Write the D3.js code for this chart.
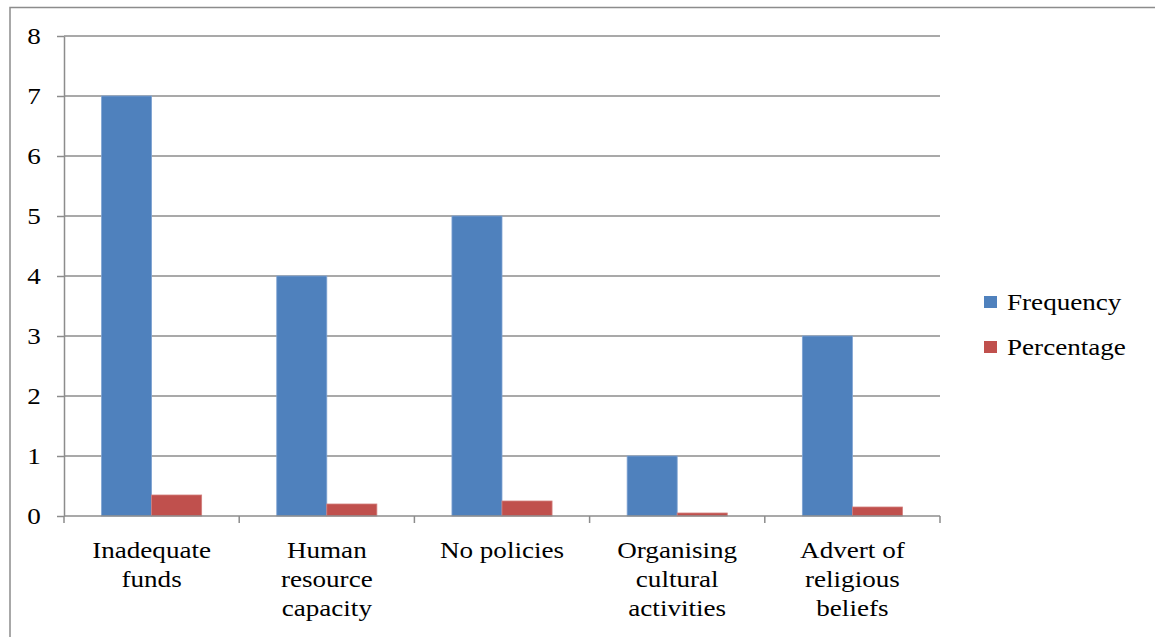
<!DOCTYPE html>
<html>
<head>
<meta charset="utf-8">
<script src="https://cdn.jsdelivr.net/npm/d3@7"></script>
<style>
  html, body { margin: 0; padding: 0; background: #fff; }
  svg { display: block; }
</style>
</head>
<body>
<script>
// Barriers to promoting cultural heritage: frequency and share of responses
const categories = [
  ["Inadequate", "funds"],
  ["Human", "resource", "capacity"],
  ["No policies"],
  ["Organising", "cultural", "activities"],
  ["Advert of", "religious", "beliefs"]
];
const seriesNames = ["Frequency", "Percentage"];
const frequency = [7, 4, 5, 1, 3];
const percentage = [0.35, 0.2, 0.25, 0.05, 0.15];
const yTicks = [0, 1, 2, 3, 4, 5, 6, 7, 8];
const colors = ["#4F81BD", "#C0504D"];

const W = 1155, H = 637;
const plot = { left: 64, right: 940, top: 36, bottom: 516 };
const fontSize = 24, stretch = 1.13;
const FONT = '"Liberation Serif", "Times New Roman", Times, serif';

const svg = d3.select("body").append("svg").attr("width", W).attr("height", H);

// chart frame
svg.append("path")
  .attr("d", `M10,${H + 2} V7.5 H${W + 2}`)
  .attr("fill", "none").attr("stroke", "#8c8c8c").attr("stroke-width", 1.5);

const idx = d3.range(categories.length);
const x0 = d3.scaleBand().domain(idx).range([plot.left, plot.right])
  .paddingInner(0.4286).paddingOuter(0.2143);
const x1 = d3.scaleBand().domain([0, 1]).range([0, x0.bandwidth()]).padding(0);
const y = d3.scaleLinear().domain([0, 8]).range([plot.bottom, plot.top]);

// horizontal gridlines
svg.append("g").selectAll("line").data(yTicks.slice(1)).join("line")
  .attr("x1", plot.left).attr("x2", plot.right)
  .attr("y1", d => y(d)).attr("y2", d => y(d))
  .attr("stroke", "#8c8c8c").attr("stroke-width", 1.5);

// y axis
const yAxis = svg.append("g").attr("transform", `translate(${plot.left},0)`)
  .call(d3.axisLeft(y).tickValues(yTicks).tickSize(7).tickSizeOuter(0).tickPadding(0).tickFormat(d3.format("d")));
yAxis.select(".domain").attr("stroke", "#8c8c8c").attr("stroke-width", 1.5);
yAxis.selectAll(".tick line").attr("stroke", "#8c8c8c").attr("stroke-width", 1.5);
yAxis.selectAll(".tick text")
  .style("font-family", FONT).style("font-size", fontSize + "px")
  .attr("fill", "#000")
  .attr("x", null).attr("dy", null)
  .attr("text-anchor", "middle").attr("dominant-baseline", "central")
  .attr("transform", `translate(-30,0) scale(${stretch},1)`);

// bars
const groups = svg.append("g").selectAll("g").data(idx).join("g")
  .attr("transform", i => `translate(${x0(i)},0)`);
groups.selectAll("rect")
  .data(i => [frequency[i], percentage[i]].map((v, s) => ({ v, s })))
  .join("rect")
  .attr("x", d => x1(d.s))
  .attr("width", x1.bandwidth())
  .attr("y", d => y(d.v))
  .attr("height", d => y(0) - y(d.v))
  .attr("fill", d => colors[d.s])
  .attr("stroke", d => d.s === 0 ? "#7fa3d3" : "#d27e7c")
  .attr("stroke-width", 0.8);

// x axis with ticks at category boundaries
const bounds = d3.range(categories.length + 1).map(i => plot.left + i * x0.step());
const xAxisG = svg.append("g");
xAxisG.append("line")
  .attr("x1", plot.left).attr("x2", plot.right)
  .attr("y1", plot.bottom).attr("y2", plot.bottom)
  .attr("stroke", "#8c8c8c").attr("stroke-width", 1.5);
xAxisG.selectAll("line.tk").data(bounds).join("line").attr("class", "tk")
  .attr("x1", d => d).attr("x2", d => d)
  .attr("y1", plot.bottom).attr("y2", plot.bottom + 7)
  .attr("stroke", "#8c8c8c").attr("stroke-width", 1.5);

// category labels
const labelG = svg.append("g").selectAll("g").data(idx).join("g")
  .attr("transform", i => `translate(${x0(i) + x0.bandwidth() / 2},0)`);
labelG.selectAll("text").data(i => categories[i]).join("text")
  .style("font-family", FONT).style("font-size", fontSize + "px")
  .attr("fill", "#000")
  .attr("text-anchor", "middle")
  .attr("transform", (d, j) => `translate(0,${558 + j * 29}) scale(${stretch},1)`)
  .text(d => d);

// legend
const legend = svg.append("g").selectAll("g").data(seriesNames).join("g")
  .attr("transform", (d, i) => `translate(984,${302 + i * 45})`);
legend.append("rect")
  .attr("x", 0).attr("y", -6).attr("width", 13).attr("height", 12)
  .attr("fill", (d, i) => colors[i]);
legend.append("text")
  .style("font-family", FONT).style("font-size", fontSize + "px")
  .attr("fill", "#000")
  .attr("transform", `translate(23,8) scale(${stretch},1)`)
  .text(d => d);
</script>
</body>
</html>
